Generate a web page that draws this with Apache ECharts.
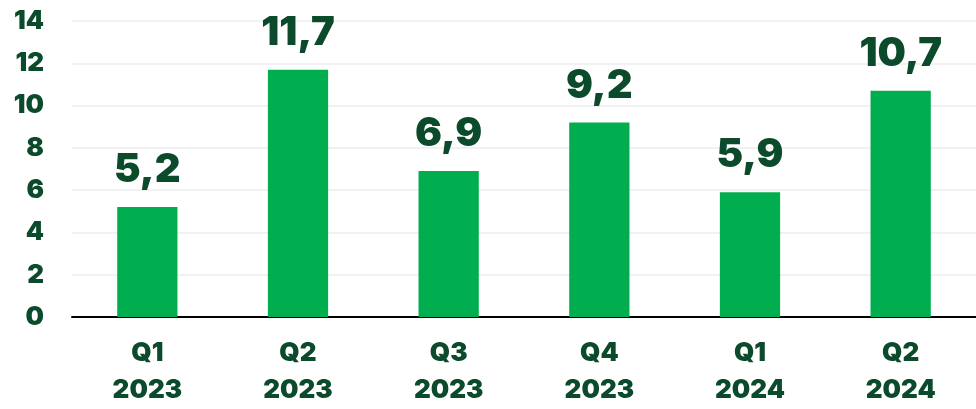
<!DOCTYPE html>
<html>
<head>
<meta charset="utf-8">
<script src="https://cdn.jsdelivr.net/npm/echarts@6/dist/echarts.min.js"></script>
<style>
html,body{margin:0;padding:0;background:#fff;}
#chart{width:976px;height:409px;}
</style>
</head>
<body>
<div id="chart"></div>
<script>
const categories = ['Q1\n2023', 'Q2\n2023', 'Q3\n2023', 'Q4\n2023', 'Q1\n2024', 'Q2\n2024'];
const values = [5.2, 11.7, 6.9, 9.2, 5.9, 10.7];
const yTicks = [0, 2, 4, 6, 8, 10, 12, 14];

const textColor = '#0b4a2b';
const barColor = '#00ae4f';
const fontFamily = 'Inter, "Open Sans", sans-serif';

const chart = echarts.init(document.getElementById('chart'), null, {renderer: 'canvas'});
chart.setOption({
  animation: false,
  backgroundColor: '#ffffff',
  grid: {left: 72, right: -10, top: 21, bottom: 88.5, containLabel: false},
  xAxis: {
    type: 'category',
    data: categories,
    axisLine: {show: true, lineStyle: {color: '#000000', width: 2}},
    axisTick: {show: false},
    axisLabel: {
      color: textColor, fontFamily: fontFamily, fontWeight: 900,
      fontSize: 26, lineHeight: 37, margin: 18
    }
  },
  yAxis: {
    type: 'value',
    min: yTicks[0], max: yTicks[yTicks.length - 1], interval: 2,
    axisLine: {show: false},
    axisTick: {show: false},
    splitLine: {show: true, lineStyle: {color: '#ececec', width: 1.5}},
    axisLabel: {
      color: textColor, fontFamily: fontFamily, fontWeight: 900,
      fontSize: 26, margin: 28
    }
  },
  series: [{
    type: 'bar',
    data: values,
    barWidth: '40%',
    itemStyle: {color: barColor},
    label: {
      show: true, position: 'top', distance: 17,
      color: textColor, fontFamily: fontFamily, fontWeight: 900, fontSize: 40,
      formatter: p => String(p.value).replace('.', ',')
    }
  }]
});
</script>
</body>
</html>
